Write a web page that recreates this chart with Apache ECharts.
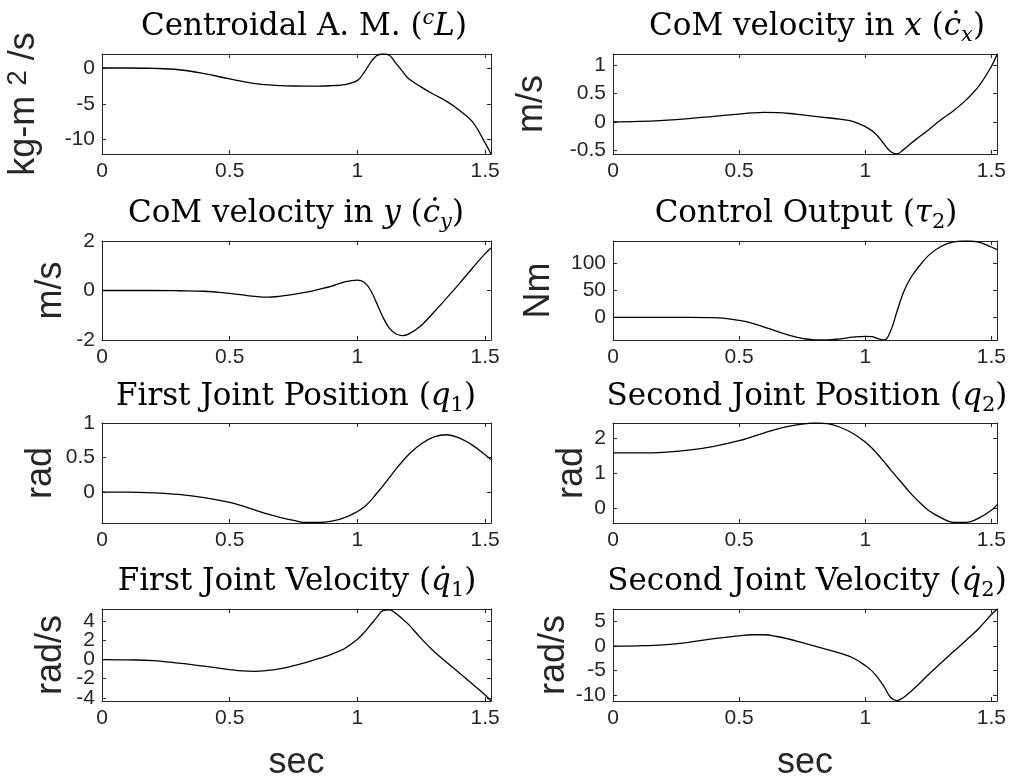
<!DOCTYPE html>
<html><head><meta charset="utf-8">
<script src="https://cdn.jsdelivr.net/npm/echarts@6/dist/echarts.min.js"></script>
<style>html,body{margin:0;padding:0;background:#fff}#c{width:1009px;height:782px}</style>
</head><body><div id="c"></div>
<script>
// time samples (sec)
const time = [0, 0.1, 0.2, 0.3, 0.4, 0.5, 0.55, 0.6, 0.65, 0.7, 0.75, 0.8, 0.85, 0.9, 0.95, 1.0,
  1.025, 1.05, 1.075, 1.1, 1.125, 1.15, 1.175, 1.2, 1.25, 1.3, 1.35, 1.4, 1.45, 1.5, 1.523];

// Centroidal angular momentum (kg-m^2/s)
const angMomentum = [0.1, 0.1, 0.05, -0.15, -0.7, -1.45, -1.8, -2.1, -2.3, -2.4, -2.45, -2.47, -2.47, -2.4, -2.25, -1.65,
  -0.6, 0.8, 1.84, 2.08, 1.9, 0.8, -0.3, -1.4, -2.6, -3.65, -4.62, -5.9, -7.5, -10.5, -12.07];
// CoM velocity in x (m/s)
const comVelX = [0, 0.01, 0.03, 0.06, 0.1, 0.14, 0.16, 0.17, 0.165, 0.15, 0.125, 0.1, 0.075, 0.05, 0.01, -0.08,
  -0.15, -0.25, -0.39, -0.52, -0.562, -0.49, -0.4, -0.31, -0.14, 0.04, 0.2, 0.39, 0.63, 0.98, 1.197];
// CoM velocity in y (m/s)
const comVelY = [0, 0, 0, -0.01, -0.03, -0.12, -0.18, -0.24, -0.27, -0.23, -0.16, -0.07, 0.05, 0.18, 0.35, 0.42,
  0.34, 0.04, -0.5, -1.08, -1.52, -1.75, -1.82, -1.76, -1.41, -0.87, -0.3, 0.29, 0.9, 1.49, 1.72];
// Control output tau_2 (Nm)
const torque2 = [0, 0, 0, 0, -0.5, -5.6, -10.6, -18, -26, -33.5, -39, -42, -42, -40, -37, -35.4,
  -36, -39.5, -42, -26, 10, 45, 69.5, 87, 115, 132, 140.5, 142.2, 140, 131, 126];
// First joint position q1 (rad)
const q1 = [0, 0, -0.01, -0.034, -0.08, -0.15, -0.2, -0.26, -0.32, -0.37, -0.41, -0.44, -0.44, -0.42, -0.37, -0.28,
  -0.22, -0.13, -0.02, 0.09, 0.21, 0.33, 0.44, 0.54, 0.7, 0.8, 0.83, 0.78, 0.68, 0.54, 0.47];
// Second joint position q2 (rad)
const q2 = [1.575, 1.575, 1.59, 1.65, 1.76, 1.92, 2.03, 2.14, 2.25, 2.33, 2.39, 2.42, 2.4, 2.3, 2.13, 1.88,
  1.72, 1.53, 1.32, 1.1, 0.89, 0.68, 0.47, 0.28, -0.05, -0.26, -0.39, -0.39, -0.27, -0.05, 0.11];
// First joint velocity (rad/s)
const q1Dot = [0, -0.03, -0.1, -0.36, -0.68, -1.04, -1.19, -1.23, -1.13, -0.94, -0.63, -0.29, 0.12, 0.58, 1.17, 2.14,
  2.8, 3.6, 4.4, 5.15, 5.22, 4.85, 4.3, 3.7, 2.2, 0.85, -0.3, -1.42, -2.56, -3.7, -4.34];
// Second joint velocity (rad/s)
const q2Dot = [0, 0.05, 0.25, 0.75, 1.5, 2.07, 2.3, 2.3, 1.94, 1.38, 0.7, 0, -0.72, -1.44, -2.38, -3.95,
  -5.0, -6.46, -8.3, -10.4, -11.1, -10.5, -9.5, -8.34, -5.83, -3.45, -1.13, 1.19, 3.58, 6.4, 7.53];

// tick labels
const xTicks = [0, 0.5, 1, 1.5];
const yTicksAM = [-10, -5, 0];
const yTicksVX = [-0.5, 0, 0.5, 1];
const yTicksVY = [-2, 0, 2];
const yTicksTau = [0, 50, 100];
const yTicksQ1 = [0, 0.5, 1];
const yTicksQ2 = [0, 1, 2];
const yTicksQ1D = [-4, -2, 0, 2, 4];
const yTicksQ2D = [-10, -5, 0, 5];

const AX = '#262626';
const SANS = 'Liberation Sans, Arial, Helvetica, sans-serif';
const SERIF = 'DejaVu Serif, serif';
const TFS = 31;
const SFS = 21;

const titleRich = {
  n: {fontFamily: SERIF, fontSize: TFS, fontWeight: 'normal', lineHeight: 38, color: '#000'},
  i: {fontFamily: SERIF, fontSize: TFS, fontWeight: 'normal', lineHeight: 38, color: '#000', fontStyle: 'italic'},
  sub: {fontFamily: SERIF, fontSize: SFS, fontWeight: 'normal', lineHeight: 20, verticalAlign: 'bottom', color: '#000', fontStyle: 'italic'},
  subn: {fontFamily: SERIF, fontSize: SFS, fontWeight: 'normal', lineHeight: 20, verticalAlign: 'bottom', color: '#000'},
  sup: {fontFamily: SERIF, fontSize: SFS, fontWeight: 'normal', lineHeight: 20, verticalAlign: 'top', color: '#000', fontStyle: 'italic'}
};

const panels = [
  {title: '{n|Centroidal A. M. (}{sup|c}{i|L}{n|)}', yName: '{a|kg-m }{s|2}{a| /s}', data: angMomentum, yMin: -12.07, yMax: 2.08, yTicks: yTicksAM, nameGap: 58},
  {title: '{n|CoM velocity in }{i|x}{n| (}{i|\u010B}{sub|x}{n|)}', yName: 'm/s', data: comVelX, yMin: -0.563, yMax: 1.197, yTicks: yTicksVX, nameGap: 63},
  {title: '{n|CoM velocity in }{i|y}{n| (}{i|\u010B}{sub|y}{n|)}', yName: 'm/s', data: comVelY, yMin: -2, yMax: 2, yTicks: yTicksVY, nameGap: 33},
  {title: '{n|Control Output (}{i|\u03C4}{subn|2}{n|)}', yName: 'Nm', data: torque2, yMin: -42.2, yMax: 142.2, yTicks: yTicksTau, nameGap: 56},
  {title: '{n|First Joint Position (}{i|q}{subn|1}{n|)}', yName: 'rad', data: q1, yMin: -0.447, yMax: 1.0, yTicks: yTicksQ1, nameGap: 43},
  {title: '{n|Second Joint Position (}{i|q}{subn|2}{n|)}', yName: 'rad', data: q2, yMin: -0.41, yMax: 2.42, yTicks: yTicksQ2, nameGap: 23},
  {title: '{n|First Joint Velocity (}{i|q\u0307}{subn|1}{n|)}', yName: 'rad/s', data: q1Dot, yMin: -4.34, yMax: 5.31, yTicks: yTicksQ1D, nameGap: 33},
  {title: '{n|Second Joint Velocity (}{i|q\u0307}{subn|2}{n|)}', yName: 'rad/s', data: q2Dot, yMin: -11.17, yMax: 7.53, yTicks: yTicksQ2D, nameGap: 41}
];

const colLeft = [102, 613];
const colWidth = 389;
const rowTop = [54, 241, 423, 609];
const rowHeight = [100, 99, 100, 99];
const titleCenters = [304, 817, 296, 806, 296, 807, 297, 807];
const titleTop = [8, 195, 378, 563];

const grid = [], xAxis = [], yAxis = [], series = [], title = [];
panels.forEach((p, i) => {
  const col = i % 2, row = Math.floor(i / 2);
  grid.push({left: colLeft[col], top: rowTop[row], width: colWidth, height: rowHeight[row], show: false, containLabel: false});
  title.push({text: p.title, left: titleCenters[i], top: titleTop[row], textAlign: 'center', padding: 0,
    textStyle: {rich: titleRich, fontFamily: SERIF, fontSize: TFS, fontWeight: 'normal'}});
  const isBottom = row === 3;
  const labelStyle = {show: true, interval: 0, margin: 7, fontSize: 21, lineHeight: 14, color: AX, fontFamily: SANS,
    showMinLabel: true, showMaxLabel: true, hideOverlap: false};
  const baseX = {type: 'value', gridIndex: i, min: 0, max: 1.523, splitLine: {show: false},
    axisLine: {show: true, onZero: false, lineStyle: {color: AX, width: 1}},
    axisTick: {show: true, inside: true, length: 4, customValues: xTicks, lineStyle: {color: AX, width: 1}}};
  xAxis.push(Object.assign({}, baseX, {position: 'bottom',
    axisLabel: Object.assign({customValues: xTicks}, labelStyle, {margin: 10}),
    name: isBottom ? 'sec' : '', nameLocation: 'middle', nameGap: 44,
    nameTextStyle: {fontSize: 36, color: AX, fontFamily: SANS}}));
  xAxis.push(Object.assign({}, baseX, {position: 'top', axisLabel: {show: false}}));
  const baseY = {type: 'value', gridIndex: i, min: p.yMin, max: p.yMax, splitLine: {show: false},
    axisLine: {show: true, onZero: false, lineStyle: {color: AX, width: 1}},
    axisTick: {show: true, inside: true, length: 4, customValues: p.yTicks, lineStyle: {color: AX, width: 1}}};
  // labels split into two interleaved sets so that dense labels are not auto-hidden
  const evenLabels = p.yTicks.filter((v, k) => k % 2 === 0);
  const oddLabels = p.yTicks.filter((v, k) => k % 2 === 1);
  yAxis.push(Object.assign({}, baseY, {position: 'left',
    axisLabel: Object.assign({customValues: evenLabels}, labelStyle),
    name: p.yName, nameLocation: 'middle', nameGap: p.nameGap, nameRotate: 90,
    nameTextStyle: {fontSize: 36, color: AX, fontFamily: SANS,
      rich: {a: {fontSize: 36, color: AX, fontFamily: SANS, lineHeight: 40},
             s: {fontSize: 28, color: AX, fontFamily: SANS, lineHeight: 22, verticalAlign: 'top'}}}}));
  yAxis.push(Object.assign({}, baseY, {position: 'right', axisLabel: {show: false}}));
  yAxis.push(Object.assign({}, baseY, {position: 'left', offset: 0,
    axisLine: {show: false}, axisTick: {show: false},
    axisLabel: Object.assign({customValues: oddLabels.length ? oddLabels : evenLabels}, labelStyle)}));
  series.push({type: 'line', xAxisIndex: 2 * i, yAxisIndex: 3 * i, showSymbol: false, smooth: 0.4,
    data: time.map((t, k) => [t, p.data[k]]), lineStyle: {color: '#000', width: 1.3}, clip: true});
});

const chart = echarts.init(document.getElementById('c'), null, {renderer: 'canvas'});
chart.setOption({animation: false, backgroundColor: '#fff', title, grid, xAxis, yAxis, series});
</script></body></html>
